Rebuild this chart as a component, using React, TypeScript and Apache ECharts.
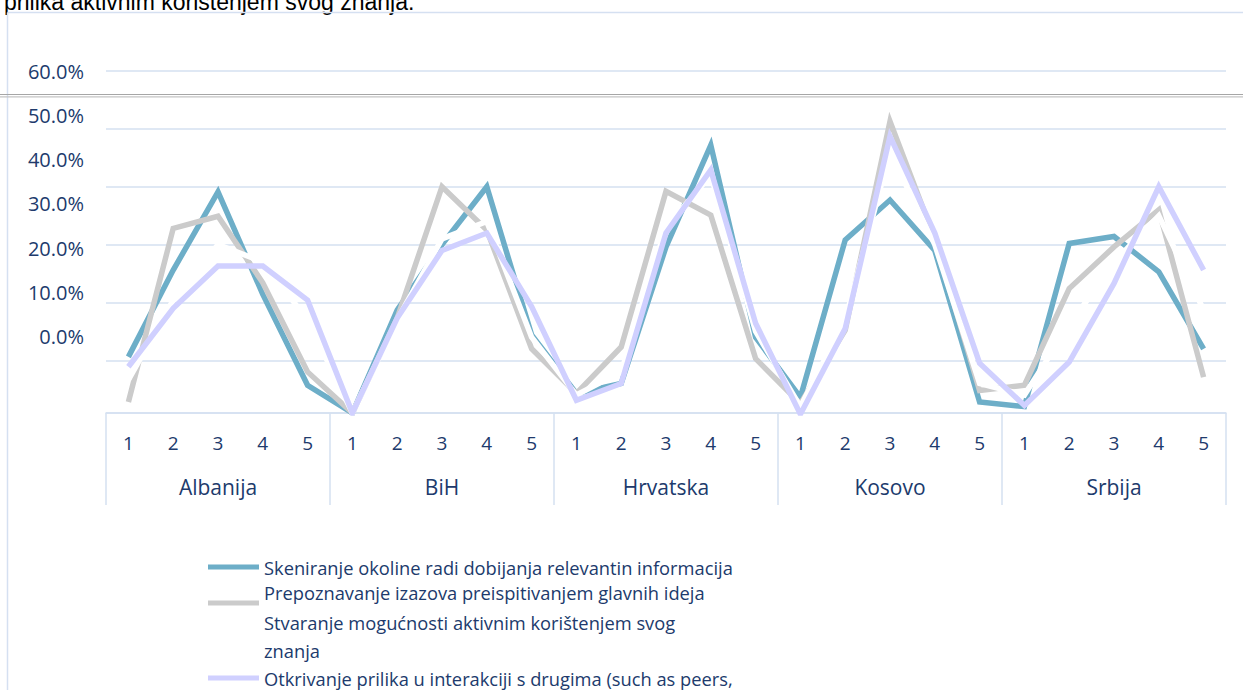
import React, { useEffect, useRef } from "react";
import * as echarts from "echarts";

const countries = ["Albanija", "BiH", "Hrvatska", "Kosovo", "Srbija"];
const levels = ["1", "2", "3", "4", "5"];
const yTickLabels = ["0.0%", "10.0%", "20.0%", "30.0%", "40.0%", "50.0%", "60.0%"];

const seriesNames = [
  "Skeniranje okoline radi dobijanja relevantin informacija",
  "Prepoznavanje izazova preispitivanjem glavnih ideja",
  "Stvaranje mogućnosti aktivnim korištenjem svog znanja",
  "Otkrivanje prilika u interakciji s drugima (such as peers,",
];

// values per country, levels 1..5
const skeniranje = [
  0.106, 0.256, 0.391, 0.214, 0.057,
  0.009, 0.187, 0.3, 0.4, 0.144,
  0.043, 0.06, 0.296, 0.472, 0.14,
  0.036, 0.308, 0.377, 0.29, 0.028,
  0.02, 0.302, 0.314, 0.253, 0.12,
];
const prepoznavanje = [
  0.028, 0.328, 0.349, 0.234, 0.08,
  0.009, 0.173, 0.4, 0.325, 0.12,
  0.043, 0.123, 0.392, 0.351, 0.103,
  0.025, 0.152, 0.513, 0.31, 0.048,
  0.057, 0.224, 0.296, 0.36, 0.071,
];
const stvaranje = [
  0.066, 0.204, 0.3, 0.27, 0.17,
  0.009, 0.17, 0.31, 0.34, 0.14,
  0.04, 0.08, 0.33, 0.42, 0.15,
  0.02, 0.17, 0.46, 0.3, 0.06,
  0.04, 0.16, 0.27, 0.35, 0.187,
];
const otkrivanje = [
  0.089, 0.19, 0.263, 0.263, 0.204,
  0.009, 0.173, 0.29, 0.32, 0.193,
  0.031, 0.06, 0.32, 0.429, 0.164,
  0.007, 0.155, 0.487, 0.32, 0.095,
  0.022, 0.097, 0.233, 0.4, 0.256,
];

const colors = ["#6DAEC8", "#CBCBCB", "#FFFFFF", "#D0D0FF"];
const titleTail = "prilika aktivnim korištenjem svog znanja.";

export default function App() {
  const ref = useRef<HTMLDivElement>(null);
  useEffect(() => {
    if (!ref.current) return;
    const chart = echarts.init(ref.current, null, { renderer: "svg" });
    const levelCats: string[] = [];
    countries.forEach((c) => levels.forEach((l) => levelCats.push(l)));
    const textColor = "#203A6C";
    const gridColor = "#D5E0F1";
    const font = "'Open Sans', 'Noto Sans', sans-serif";
    const allData = [skeniranje, prepoznavanje, stvaranje, otkrivanje];

    const legendRows = [
      { color: colors[0], lineY: 567, texts: [{ t: seriesNames[0], y: 567 }] },
      { color: colors[1], lineY: 603, texts: [{ t: seriesNames[1], y: 592 }] },
      {
        color: colors[2],
        lineY: 636,
        texts: [
          { t: "Stvaranje mogućnosti aktivnim korištenjem svog", y: 622 },
          { t: "znanja", y: 650 },
        ],
      },
      { color: colors[3], lineY: 678, texts: [{ t: seriesNames[3], y: 678 }] },
    ];
    const legendGraphics: any[] = [];
    legendRows.forEach((r) => {
      legendGraphics.push({
        type: "line",
        shape: { x1: 208, y1: r.lineY, x2: 259, y2: r.lineY },
        style: { stroke: r.color, lineWidth: 5 },
      });
      r.texts.forEach((tx) => {
        legendGraphics.push({
          type: "text",
          x: 264,
          y: tx.y,
          style: {
            text: tx.t,
            fill: textColor,
            font: `18.3px ${font}`,
            verticalAlign: "middle",
            align: "left",
          },
        });
      });
    });

    chart.setOption({
      animation: false,
      backgroundColor: "#ffffff",
      grid: [
        { left: 106, right: 17, top: 71, bottom: 277 },
        { left: 106, right: 17, top: 71, bottom: 353.3 },
      ],
      xAxis: [
        {
          type: "category",
          gridIndex: 0,
          data: levelCats,
          boundaryGap: true,
          axisLine: { show: false },
          axisTick: { show: false },
          axisLabel: {
            interval: 0,
            margin: 20,
            color: textColor,
            fontSize: 19,
            fontFamily: font,
          },
        },
        {
          type: "category",
          gridIndex: 0,
          position: "bottom",
          data: countries,
          boundaryGap: true,
          axisLine: { show: true, lineStyle: { color: gridColor, width: 1.5 } },
          axisTick: {
            show: true,
            interval: 0,
            length: 92,
            lineStyle: { color: gridColor, width: 1.5 },
          },
          axisLabel: {
            interval: 0,
            margin: 63,
            color: textColor,
            fontSize: 21,
            fontFamily: font,
          },
        },
        { type: "value", gridIndex: 1, show: false, min: 0, max: 1 },
      ],
      yAxis: [
        {
          type: "value",
          gridIndex: 0,
          min: 0.009,
          max: 0.6,
          splitNumber: 6,
          axisLabel: { show: false },
          axisLine: { show: false },
          axisTick: { show: false },
          splitLine: { show: true, lineStyle: { color: gridColor, width: 1.5 } },
        },
        {
          type: "value",
          gridIndex: 1,
          min: 0,
          max: 0.6,
          interval: 0.1,
          axisLine: { show: false },
          axisTick: { show: false },
          splitLine: { show: false },
          axisLabel: {
            margin: 22,
            color: textColor,
            fontSize: 20,
            fontFamily: font,
            formatter: (v: number) => yTickLabels[Math.round(v * 10)] ?? "",
          },
        },
      ],
      series: seriesNames.map((name, i) => ({
        name,
        type: "line",
        xAxisIndex: 0,
        yAxisIndex: 0,
        data: allData[i],
        symbol: "none",
        lineStyle: { color: colors[i], width: 5.5, join: "miter" },
        itemStyle: { color: colors[i] },
        z: 3 + i,
      })),
      graphic: [
        {
          type: "text",
          x: 4,
          y: 13,
          style: {
            text: titleTail,
            fill: "#000000",
            font: "23px 'Liberation Sans', Arial, sans-serif",
            verticalAlign: "bottom",
            align: "left",
          },
        },
        {
          type: "line",
          shape: { x1: 7.5, y1: 12.5, x2: 1243, y2: 12.5 },
          style: { stroke: gridColor, lineWidth: 1.5 },
        },
        {
          type: "line",
          shape: { x1: 7.5, y1: 12.5, x2: 7.5, y2: 690 },
          style: { stroke: gridColor, lineWidth: 1.5 },
        },
        {
          type: "line",
          shape: { x1: 0, y1: 94.5, x2: 1243, y2: 94.5 },
          style: { stroke: "#A6A6A6", lineWidth: 1.2 },
        },
        {
          type: "line",
          shape: { x1: 0, y1: 96.8, x2: 1243, y2: 96.8 },
          style: { stroke: "#C4C4C4", lineWidth: 1.2 },
        },
        ...legendGraphics,
      ],
    });
    return () => chart.dispose();
  }, []);
  return (
    <div
      ref={ref}
      style={{ position: "absolute", left: 0, top: 0, width: 1243, height: 690 }}
    />
  );
}
